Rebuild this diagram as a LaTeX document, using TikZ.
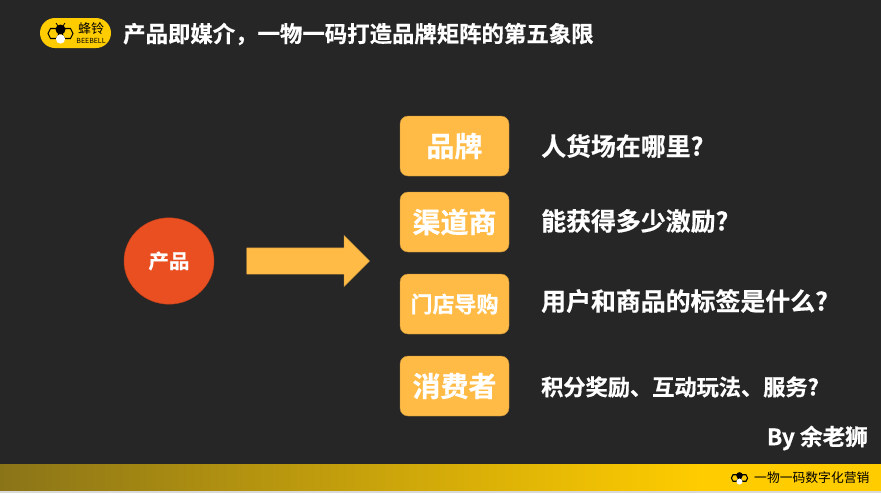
\documentclass[tikz,border=0pt]{standalone}
\usepackage{fontspec}
\setmainfont{Noto Sans CJK SC}[BoldFont={Noto Sans CJK SC Bold},BoldFeatures={FakeBold=0.6}]
\usetikzlibrary{shapes.arrows}
\definecolor{slidebg}{HTML}{262626}
\definecolor{beeyellow}{HTML}{FFCC00}
\definecolor{boxorange}{HTML}{FFBB45}
\definecolor{boxedge}{HTML}{BD8D3C}
\definecolor{productred}{HTML}{EA4F22}
\definecolor{bandleft}{HTML}{8A7418}
\tikzset{
  rolebox/.style={draw=boxedge,fill=boxorange,rounded corners=8pt,minimum width=109pt,minimum height=60pt,
    inner sep=0pt,text=white,font=\bfseries},
  question/.style={anchor=west,text=white,font=\bfseries\fontsize{24.9}{26}\selectfont,inner sep=0pt},
  hexcell/.style={draw=black,line width=1.1pt}
}
\newcommand{\beehive}[2]{% centre, scale
  \begin{scope}[shift={#1},scale=#2]
    \draw[hexcell] (-7,0) ++(-5.5,0) -- ++(2.5,-5) -- ++(6,0) -- ++(2.5,5) -- ++(-2.5,5) -- ++(-6,0) -- cycle;
    \draw[hexcell] (7,0) ++(-5.5,0) -- ++(2.5,-5) -- ++(6,0) -- ++(2.5,5) -- ++(-2.5,5) -- ++(-6,0) -- cycle;
    \fill[black] (0,-4) circle (5);
    \fill[white] (0,5.5) circle (4.6);
  \end{scope}
}
\begin{document}
\begin{tikzpicture}[x=1pt,y=-1pt]
  \useasboundingbox (0,0) rectangle (881,493);
  \fill[slidebg] (0,0) rectangle (881,493);

  % Header
  \fill[beeyellow,rounded corners=15pt] (40,18) rectangle (111,48);
  \beehive{(60.5,33.5)}{1}
  \draw[black,line width=0.7pt] (58,26) -- (56,23);
  \draw[black,line width=0.7pt] (63,26) -- (65,23);
  \node[inner sep=0pt,font=\fontsize{13}{13}\selectfont] (logotext) at (91,29) {蜂铃};
  \node[inner sep=0pt,font=\fontsize{7}{7}\selectfont] (logosub) at (91,41) {BEEBELL};
  \node[anchor=west,inner sep=0pt,text=white,font=\bfseries\fontsize{22.4}{24}\selectfont] (title) at (123,34)
    {产品即媒介，一物一码打造品牌矩阵的第五象限};

  % Product and arrow
  \node[circle,draw=productred!80!black,fill=productred,minimum width=90pt,inner sep=0pt,yscale=0.96,
    text=white,font=\bfseries\fontsize{20.5}{22}\selectfont] (product) at (169,261) {产品};
  \node[single arrow,anchor=tail,draw=boxedge,fill=boxorange,minimum height=123pt,inner sep=0pt,inner ysep=13pt,
    single arrow head extend=12.5pt,single arrow tip angle=90] (mainarrow) at (246.5,261) {};

  % Roles
  \node[rolebox] (brand) at (454.5,146) {\fontsize{28}{30}\selectfont 品牌};
  \node[rolebox] (dealer) at (454.5,222) {\fontsize{28}{30}\selectfont 渠道商};
  \node[rolebox] (guide) at (454.5,304) {\fontsize{22}{24}\selectfont 门店导购};
  \node[rolebox] (consumer) at (454.5,386) {\fontsize{28}{30}\selectfont 消费者};

  % Questions
  \node[question] (qbrand) at (541,146) {人货场在哪里?};
  \node[question] (qdealer) at (541,221) {能获得多少激励?};
  \node[question] (qguide) at (541,301) {用户和商品的标签是什么?};
  \node[question,font=\bfseries\fontsize{22.2}{24}\selectfont] (qconsumer) at (541,387) {积分奖励、互动玩法、服务?};

  \node[anchor=east,inner sep=0pt,text=white,font=\bfseries\fontsize{22.6}{24}\selectfont] (byline) at (868,438) {By 余老狮};

  % Footer
  \shade[left color=bandleft,right color=beeyellow,shading angle=90] (0,464) rectangle (700,491);
  \fill[beeyellow] (700,464) rectangle (881,491);
  \fill[white!85!black] (0,491) rectangle (881,493);
  \beehive{(739.5,478)}{0.65}
  \node[anchor=west,inner sep=0pt,font=\fontsize{12.8}{14}\selectfont] (footer) at (754,478) {一物一码数字化营销};
\end{tikzpicture}
\end{document}
